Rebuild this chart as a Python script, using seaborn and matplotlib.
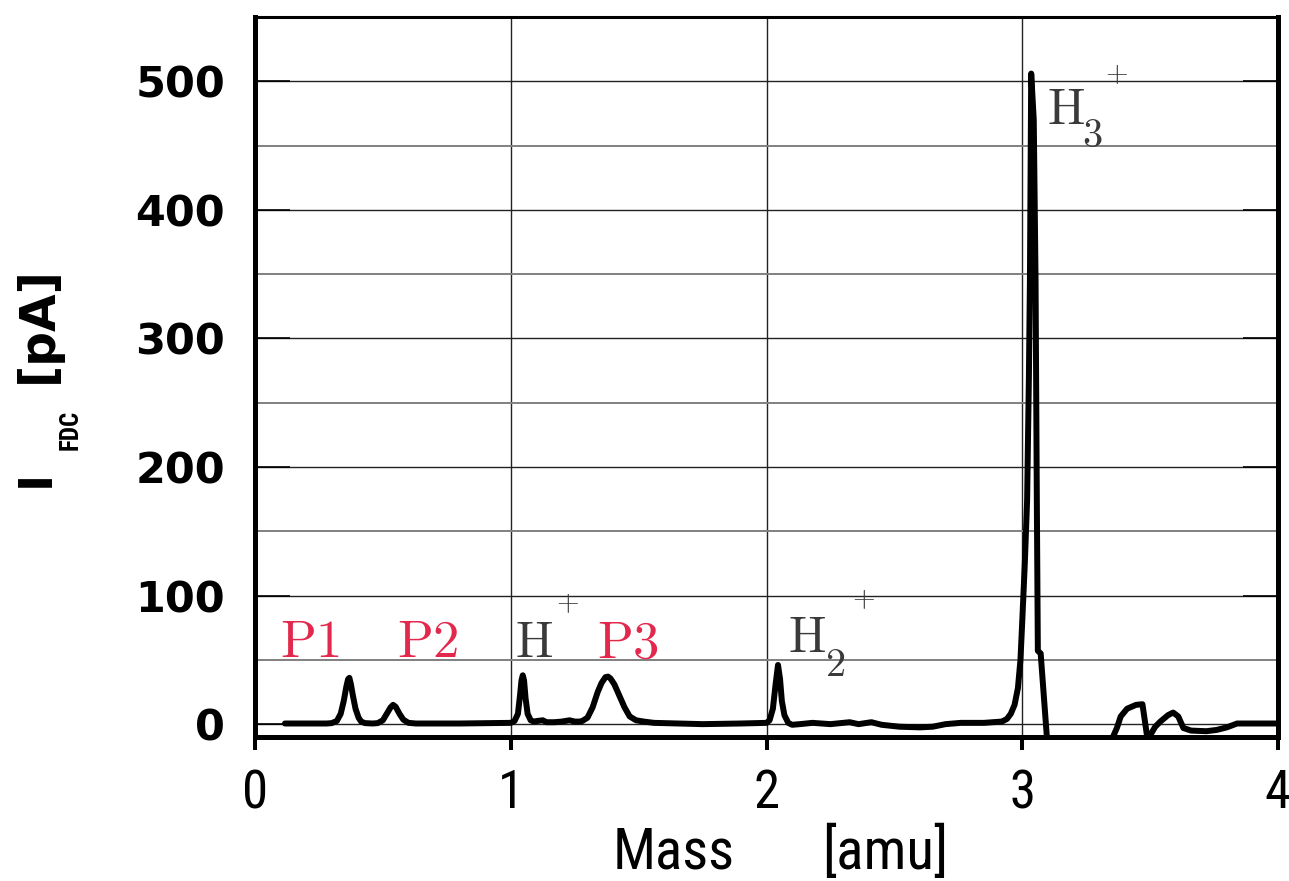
import matplotlib
matplotlib.use('Agg')
import matplotlib.pyplot as plt
import seaborn as sns
import pandas as pd
from matplotlib import font_manager

# ---- data ----
mass = [0.117, 0.20, 0.28, 0.30, 0.32, 0.335, 0.347, 0.357, 0.364, 0.369, 0.375,
        0.383, 0.393, 0.405, 0.415, 0.43, 0.46, 0.48, 0.50, 0.515, 0.53, 0.54,
        0.55, 0.565, 0.58, 0.60, 0.63, 0.80, 1.00, 1.015, 1.028, 1.036, 1.042,
        1.047, 1.052, 1.058, 1.066, 1.078, 1.09, 1.105, 1.125, 1.14, 1.17, 1.20,
        1.23, 1.25, 1.27, 1.28, 1.30, 1.32, 1.34, 1.355, 1.37, 1.38, 1.39, 1.405,
        1.425, 1.445, 1.465, 1.49, 1.52, 1.56, 1.65, 1.75, 1.90, 2.00, 2.012,
        2.025, 2.035, 2.045, 2.053, 2.06, 2.07, 2.085, 2.10, 2.13, 2.18, 2.25,
        2.325, 2.36, 2.41, 2.45, 2.52, 2.60, 2.65, 2.70, 2.76, 2.85, 2.92, 2.94,
        2.955, 2.97, 2.983, 2.993, 3.000, 3.010, 3.019, 3.026, 3.030, 3.035,
        3.045, 3.052, 3.057, 3.061, 3.072, 3.10, 3.20, 3.30, 3.35, 3.37, 3.385,
        3.41, 3.445, 3.47, 3.49, 3.52, 3.54, 3.57, 3.59, 3.61, 3.63, 3.66, 3.72,
        3.76, 3.80, 3.84, 3.90, 4.00]
current = [0.5, 0.5, 0.5, 0.8, 2.5, 8, 18, 29, 35, 36, 31,
           22, 12, 5, 2, 0.8, 0.5, 0.8, 3, 8, 13, 15,
           13.5, 8, 3.5, 1, 0.5, 0.5, 1, 2.5, 8, 22, 34,
           38, 34, 20, 8, 3, 2, 2.5, 3, 1.5, 1.5, 2,
           3, 2, 2, 2.5, 5, 13, 25, 32, 36.5, 37, 35.5, 31,
           22, 13, 6, 3, 2, 1, 0.5, 0, 0.5, 1, 3,
           12, 30, 46, 35, 18, 7, 1, -0.5, 0, 1, 0,
           1.5, 0, 1.5, -0.5, -2, -2.5, -2, 0, 1, 1, 2, 4,
           8, 15, 28, 50, 80, 125, 174, 270, 346, 506,
           470, 346, 174, 57, 55, -20, -25, -25, -12, -3, 6,
           12, 15, 15.5, -12, -2, 2, 7, 9, 6, -3, -5, -5.5,
           -4.5, -2.5, 0.5, 0.5, 0.5]

x_ticks = [0, 1, 2, 3, 4]
y_ticks = [0, 100, 200, 300, 400, 500]
y_minor = [50, 150, 250, 350, 450]

peak_labels = ['P1', 'P2', 'P3']
peak_label_x = [0.098, 0.555, 1.336]
peak_label_y = [52, 52, 52]

ion_sub = ['', '2', '3']
ion_h_xy = [(1.018, 52), (2.083, 56), (3.095, 466.5)]
ion_sub_xy = [None, (2.227, 37.4), (3.232, 448.6)]
ion_plus_xy = [(1.223, 94.2), (2.380, 97.4), (3.368, 505.5)]

# ---- style ----
sns.set_theme(style='white')
plt.rcParams['font.family'] = ['DejaVu Sans']
plt.rcParams['text.color'] = 'black'

names = {f.name for f in font_manager.fontManager.ttflist}
narrow = None
for cand in ['Liberation Sans Narrow', 'DejaVu Sans Condensed', 'Roboto Condensed', 'Open Sans Condensed']:
    if cand in names:
        narrow = cand
        break
narrow_kw = dict(family=narrow) if narrow else dict(family='DejaVu Sans', stretch='condensed')

W, H = 1289, 881
fig = plt.figure(figsize=(W / 100, H / 100), dpi=100)
ax = fig.add_axes([255 / W, (H - 737) / H, 1023 / W, 720 / H])

df = pd.DataFrame({'mass': mass, 'current': current})
sns.lineplot(data=df, x='mass', y='current', sort=False, estimator=None,
             color='black', lw=4.3, ax=ax, zorder=5)
ax.lines[0].set_solid_joinstyle('round')

ax.set_xlim(0, 4)
ax.set_ylim(-10, 550)
ax.set_xticks(x_ticks)
ax.set_yticks(y_ticks)
ax.set_yticks(y_minor, minor=True)
ax.set_xlabel('')
ax.set_ylabel('')

ax.grid(True, which='major', axis='y', color='#222222', lw=1.0, zorder=1)
ax.grid(True, which='minor', axis='y', color='#808080', lw=1.4, zorder=1)
ax.grid(True, which='major', axis='x', color='#222222', lw=1.0, zorder=1)

for s in ['left', 'bottom', 'right']:
    ax.spines[s].set_linewidth(3.6)
    ax.spines[s].set_color('black')
ax.spines['top'].set_linewidth(2.2)
ax.spines['top'].set_color('black')

ax.tick_params(axis='y', which='major', direction='in', length=25, width=1.2,
               color='black', left=True, right=True, pad=21.6,
               labelsize=31, labelcolor='black')
ax.tick_params(axis='y', which='minor', length=0)
ax.tick_params(axis='x', which='major', direction='out', length=9.4, width=2.9,
               color='black', bottom=True, pad=13, labelsize=38, labelcolor='black')
for lab in ax.get_yticklabels():
    lab.set_fontweight('bold')
for lab in ax.get_xticklabels():
    lab.set_fontproperties(font_manager.FontProperties(size=38, weight='normal', **narrow_kw))

# axis titles
fig.text(674 / W, 1 - 853 / H, 'Mass', ha='center', va='center',
         fontsize=41, fontweight='normal', color='black', **narrow_kw)
fig.text(885 / W, 1 - 853 / H, '[amu]', ha='center', va='center',
         fontsize=41, fontweight='normal', color='black', **narrow_kw)
fig.text(38 / W, 1 - 325 / H, '[pA]', rotation=90, ha='center', va='center',
         fontsize=35, fontweight='bold', color='black')
fig.text(36 / W, 1 - 478 / H, 'I', rotation=90, ha='center', va='center',
         fontsize=33, fontweight='bold', color='black')
fig.text(71 / W, 1 - 430 / H, 'FDC', rotation=90, ha='center', va='center',
         fontsize=18, fontweight='bold', color='black', **narrow_kw)

# annotations
red = '#e2284c'
grey = '#3a3a3a'
for lab, px, py in zip(peak_labels, peak_label_x, peak_label_y):
    ax.text(px, py, r'$\mathrm{' + lab + '}$', math_fontfamily='cm', color=red,
            fontsize=38, ha='left', va='baseline', zorder=6)
for sub, hxy, sxy, pxy in zip(ion_sub, ion_h_xy, ion_sub_xy, ion_plus_xy):
    ax.text(hxy[0], hxy[1], r'$\mathrm{H}$', math_fontfamily='cm', color=grey,
            fontsize=36, ha='left', va='baseline', zorder=6)
    if sub:
        ax.text(sxy[0], sxy[1], r'$\mathrm{' + sub + '}$', math_fontfamily='cm',
                color=grey, fontsize=29, ha='left', va='baseline', zorder=6)
    ax.text(pxy[0], pxy[1], r'$+$', math_fontfamily='cm', color=grey,
            fontsize=21, ha='center', va='center', zorder=6)

fig.savefig('out.png', dpi=100)
